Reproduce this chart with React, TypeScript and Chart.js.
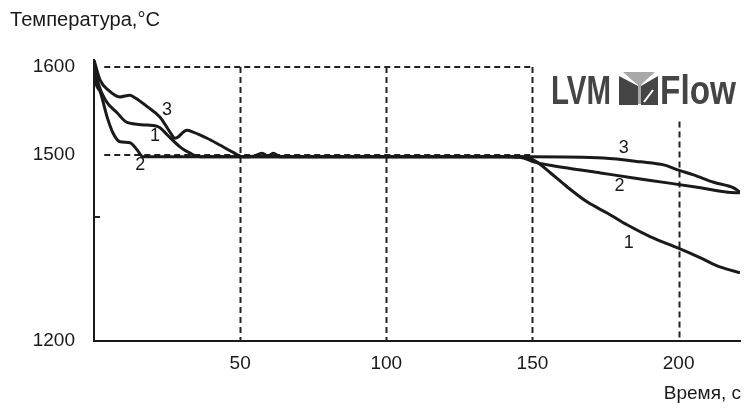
import React, { useEffect, useRef } from 'react';
import { Chart, registerables, LinearScale } from 'chart.js';

// ---- data ----
const time1 = [0, 1.4, 4, 7.9, 11.3, 18.2, 22.6, 25, 29.5, 32.9, 36.3, 60, 100, 146, 151, 156.2, 162, 168.8, 175.7, 182.5, 190.4, 199.7, 207.5, 214.4, 221];
const temp1 = [1606, 1582, 1562, 1548, 1537, 1534, 1531, 1523, 1509, 1502, 1497, 1497, 1497, 1497, 1490, 1471, 1448, 1424, 1406, 1387, 1368, 1350, 1334, 1319, 1310];

const time2 = [0, 0.3, 2.1, 4.5, 6.5, 8.9, 12.3, 14.7, 16.8, 60, 100, 140, 146, 151, 162, 173.3, 184.6, 196.2, 207.5, 216.8, 221];
const temp2 = [1606, 1589, 1572, 1543, 1525, 1515, 1514, 1506, 1497, 1497, 1497, 1497, 1496, 1488, 1479, 1471, 1463, 1455, 1447, 1440, 1439];

const time3 = [0, 2.1, 4.8, 8.9, 12.3, 14, 18.2, 22.6, 26, 27.7, 31.8, 33.9, 38.7, 43.2, 47.6, 51, 54.5, 57.5, 59.6, 61.3, 63.7, 100, 150, 174.3, 187, 194.9, 199.7, 205.1, 212, 218.8, 221];
const temp3 = [1608, 1585, 1574, 1566, 1568, 1565, 1555, 1543, 1526, 1519, 1528, 1526, 1519, 1511, 1503, 1497, 1498, 1502, 1498, 1502, 1497, 1497, 1497, 1495, 1489, 1484, 1476, 1468, 1456, 1447, 1440];

const curveNames = ['1', '2', '3'];
const labelTimes = [20.9, 15.8, 25, 182.9, 179.8, 181.2];
const labelTemps = [1521, 1484, 1551, 1358, 1450, 1508];
const labelTexts = ['1', '2', '3', '1', '2', '3'];

const xTicks = [50, 100, 150, 200];
const yTicks = [1200, 1400, 1500, 1600];
const yTickLabels = ['1200', '', '1500', '1600'];
const gridX = [50, 100, 150, 200];
const gridXTop = [1600, 1600, 1600, 1538];
const gridY = [1600, 1500];

const yTitle = 'Температура,°C';
const xTitle = 'Время, с';

// y-axis is piecewise linear in the original figure
const yBreakValues = [1200, 1500, 1608];
const yBreakFractions = [0, 0.662, 1];

function valueToFrac(v: number) {
  const bv = yBreakValues, bf = yBreakFractions;
  let i = 0;
  if (v <= bv[0]) i = 0;
  else if (v >= bv[bv.length - 1]) i = bv.length - 2;
  else { while (i < bv.length - 2 && v > bv[i + 1]) i++; }
  return bf[i] + (v - bv[i]) / (bv[i + 1] - bv[i]) * (bf[i + 1] - bf[i]);
}
function fracToValue(f: number) {
  const bv = yBreakValues, bf = yBreakFractions;
  let i = 0;
  while (i < bf.length - 2 && f > bf[i + 1]) i++;
  return bv[i] + (f - bf[i]) / (bf[i + 1] - bf[i]) * (bv[i + 1] - bv[i]);
}

class PiecewiseScale extends LinearScale {
  static id = 'piecewise';
  static defaults = LinearScale.defaults;
  getPixelForValue(value: number) {
    return this.getPixelForDecimal(valueToFrac(value));
  }
  getValueForPixel(pixel: number) {
    return fracToValue(this.getDecimalForPixel(pixel));
  }
}

Chart.register(...registerables, PiecewiseScale as any);

const FONT = '"Liberation Sans", Arial, sans-serif';
const INK = '#1a1a1a';

function fitText(ctx: CanvasRenderingContext2D, text: string, x: number, baseline: number, width: number) {
  const w = ctx.measureText(text).width;
  ctx.save();
  ctx.translate(x, baseline);
  ctx.scale(width / w, 1);
  ctx.fillText(text, 0, 0);
  ctx.restore();
}

const overlay = {
  id: 'overlay',
  beforeDatasetsDraw(chart: any) {
    const { ctx, scales: { x, y } } = chart;
    ctx.save();
    ctx.strokeStyle = '#222';
    ctx.lineWidth = 2;
    ctx.setLineDash([6, 4]);
    gridX.forEach((v, i) => {
      const px = Math.round(x.getPixelForValue(v)) + 0.5;
      ctx.beginPath();
      ctx.moveTo(px, y.getPixelForValue(gridXTop[i]));
      ctx.lineTo(px, y.getPixelForValue(1200));
      ctx.stroke();
    });
    gridY.forEach((v) => {
      const py = Math.round(y.getPixelForValue(v));
      ctx.beginPath();
      ctx.moveTo(x.getPixelForValue(3.5), py);
      ctx.lineTo(x.getPixelForValue(150), py);
      ctx.stroke();
    });
    ctx.setLineDash([]);
    // minor tick at 1400
    const p14 = y.getPixelForValue(1400);
    ctx.beginPath();
    ctx.moveTo(x.left, p14);
    ctx.lineTo(x.left + 6, p14);
    ctx.stroke();
    ctx.restore();
  },
  afterDraw(chart: any) {
    const { ctx, scales: { x, y } } = chart;
    ctx.save();
    ctx.fillStyle = INK;
    ctx.font = `20px ${FONT}`;
    ctx.textAlign = 'left';
    ctx.textBaseline = 'alphabetic';
    fitText(ctx, yTitle, 10, 26, 150);
    ctx.font = `19px ${FONT}`;
    ctx.textAlign = 'right';
    ctx.fillText(xTitle, 741, 399);

    // curve labels
    ctx.font = `18px ${FONT}`;
    ctx.textAlign = 'center';
    ctx.textBaseline = 'middle';
    labelTexts.forEach((t, i) => {
      ctx.fillText(t, x.getPixelForValue(labelTimes[i]), y.getPixelForValue(labelTemps[i]));
    });

    // logo
    ctx.textAlign = 'left';
    ctx.textBaseline = 'alphabetic';
    ctx.fillStyle = '#454545';
    ctx.font = `bold 40px ${FONT}`;
    fitText(ctx, 'LVM', 551, 104, 60);
    fitText(ctx, 'Flow', 660, 104, 76);
    // icon: two dark wings
    ctx.fillStyle = '#454545';
    ctx.beginPath();
    ctx.moveTo(619, 76);
    ctx.lineTo(638, 86);
    ctx.lineTo(638, 105);
    ctx.lineTo(619, 105);
    ctx.closePath();
    ctx.fill();
    ctx.beginPath();
    ctx.moveTo(641, 86);
    ctx.lineTo(658, 76);
    ctx.lineTo(658, 105);
    ctx.lineTo(641, 105);
    ctx.closePath();
    ctx.fill();
    // light goblet
    ctx.fillStyle = '#a8a8a8';
    ctx.beginPath();
    ctx.moveTo(623, 72);
    ctx.lineTo(655, 72);
    ctx.lineTo(645, 81);
    ctx.lineTo(641, 85);
    ctx.lineTo(641, 104);
    ctx.lineTo(638, 104);
    ctx.lineTo(638, 85);
    ctx.lineTo(633, 81);
    ctx.closePath();
    ctx.fill();
    ctx.strokeStyle = '#ffffff';
    ctx.lineWidth = 2;
    ctx.beginPath();
    ctx.moveTo(644, 102);
    ctx.lineTo(653, 90);
    ctx.stroke();
    ctx.restore();
  },
};

function series(times: number[], temps: number[]) {
  return times.map((t, i) => ({ x: t, y: temps[i] }));
}

export default function App() {
  const ref = useRef<HTMLCanvasElement | null>(null);
  useEffect(() => {
    if (!ref.current) return;
    const datasets = [
      series(time1, temp1),
      series(time2, temp2),
      series(time3, temp3),
    ].map((d, i) => ({
      label: curveNames[i],
      data: d,
      borderColor: INK,
      borderWidth: 3,
      pointRadius: 0,
      cubicInterpolationMode: 'monotone' as const,
      fill: false,
    }));
    const chart = new Chart(ref.current, {
      type: 'line',
      data: { datasets },
      options: {
        animation: false,
        responsive: true,
        maintainAspectRatio: false,
        layout: { padding: { top: 60, right: 10, left: 0, bottom: 0 } },
        plugins: { legend: { display: false }, tooltip: { enabled: false } },
        scales: {
          x: {
            type: 'linear',
            min: 0,
            max: 221,
            afterBuildTicks: (axis: any) => { axis.ticks = xTicks.map((v) => ({ value: v })); },
            afterFit: (axis: any) => { axis.height = 67; },
            grid: { display: false, drawTicks: false },
            border: { display: true, color: INK, width: 2 },
            ticks: { color: INK, padding: 11, maxRotation: 0, font: { family: FONT, size: 19 } },
          },
          y: {
            type: 'piecewise' as any,
            min: 1200,
            max: 1608,
            afterBuildTicks: (axis: any) => { axis.ticks = yTicks.map((v) => ({ value: v })); },
            afterFit: (axis: any) => { axis.width = 94; },
            grid: { display: false, drawTicks: false },
            border: { display: true, color: INK, width: 2 },
            ticks: {
              color: INK,
              padding: 19,
              font: { family: FONT, size: 19 },
              callback: (v: any) => yTickLabels[yTicks.indexOf(Number(v))] ?? '',
            },
          },
        },
      } as any,
      plugins: [overlay],
    });
    return () => chart.destroy();
  }, []);
  return (
    <div style={{ position: 'absolute', left: 0, top: 0, width: 750, height: 408, background: '#fff' }}>
      <canvas ref={ref} />
    </div>
  );
}
